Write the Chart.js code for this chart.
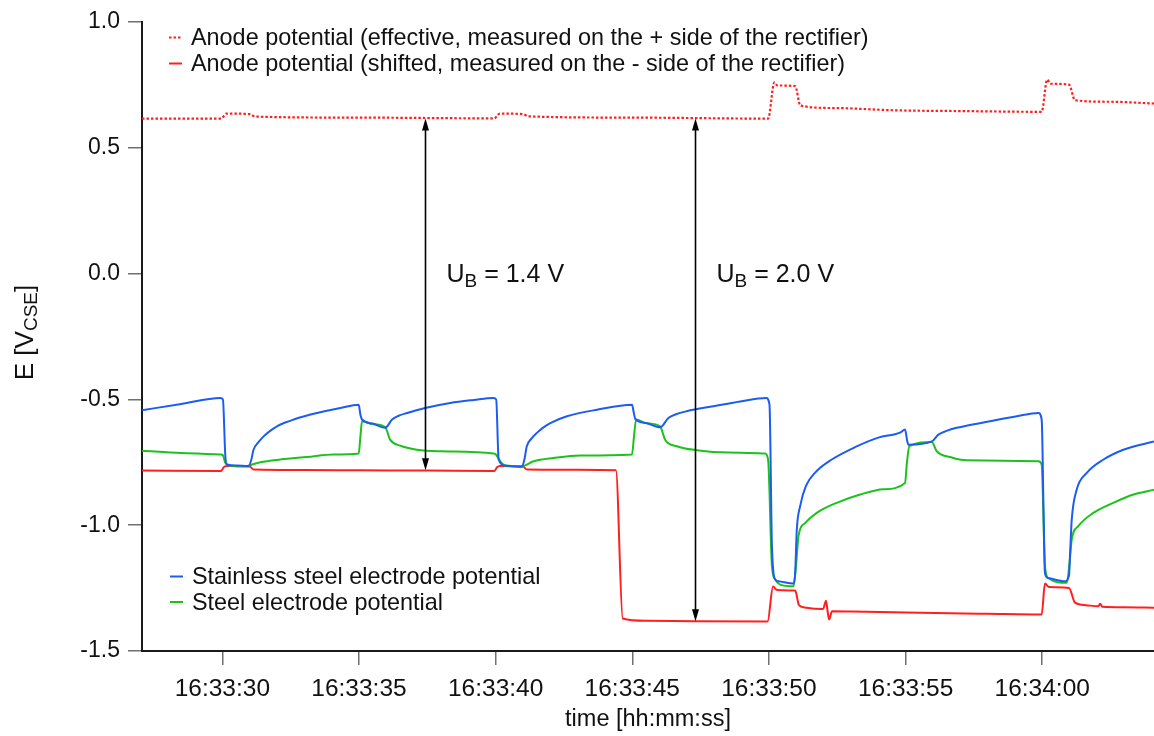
<!DOCTYPE html>
<html>
<head>
<meta charset="utf-8">
<title>Electrode potentials</title>
<script src="https://cdn.jsdelivr.net/npm/chart.js@4.4.1/dist/chart.umd.min.js"></script>
<style>
  html, body { margin: 0; padding: 0; background: #fff; }
</style>
</head>
<body>
<canvas id="potentialChart" width="1154" height="736"></canvas>
<script>
/************************************************************************************************
 *                                        CHART DATA
 *  time in seconds after 16:33:00, potentials in V vs CSE
 * **********************************************************************************************/

const timeTicks = [30, 35, 40, 45, 50, 55, 60];
const potentialTicks = [-1.5, -1.0, -0.5, 0.0, 0.5, 1.0];

const stainlessTime = [27.06, 28.5, 29.93, 30.02, 30.11, 30.17, 30.5, 30.96, 31.06, 31.14, 31.3, 31.51, 31.75, 32.0, 32.3, 32.61, 33.0, 33.46, 34.32, 34.99,
  35.05, 35.11, 35.5, 35.96, 36.21, 36.45, 36.76, 37.42, 38.34, 39.2, 39.92, 40.02, 40.11, 40.35, 40.96, 41.05, 41.14, 41.3, 41.51, 41.75,
  42.0, 42.61, 43.71, 44.99, 45.05, 45.11, 45.5, 46.02, 46.32, 46.6, 46.99, 47.97, 48.95, 49.9, 50.02, 50.11, 50.23, 50.35, 50.9, 50.96,
  51.02, 51.14, 51.35, 51.7, 52.3, 53.15, 54.0, 54.8, 54.98, 55.06, 55.1, 55.96, 56.2, 56.5, 56.87, 58.09, 59.07, 59.86, 59.98, 60.05,
  60.1, 60.22, 60.83, 60.98, 61.02, 61.08, 61.26, 61.63, 62.24, 62.97, 64.09];
const stainlessE = [-0.543, -0.518, -0.494, -0.500, -0.726, -0.759, -0.763, -0.765, -0.740, -0.700, -0.673, -0.647, -0.625, -0.607, -0.592, -0.580, -0.567, -0.554, -0.534, -0.521,
  -0.560, -0.580, -0.596, -0.613, -0.580, -0.565, -0.554, -0.534, -0.514, -0.502, -0.494, -0.500, -0.739, -0.763, -0.768, -0.740, -0.686, -0.657, -0.633, -0.611,
  -0.594, -0.567, -0.541, -0.521, -0.550, -0.578, -0.594, -0.611, -0.574, -0.559, -0.547, -0.527, -0.508, -0.494, -0.520, -1.084, -1.216, -1.223, -1.232, -1.190,
  -1.017, -0.925, -0.845, -0.790, -0.739, -0.690, -0.652, -0.632, -0.620, -0.665, -0.680, -0.667, -0.640, -0.625, -0.613, -0.587, -0.567, -0.554, -0.580, -0.950,
  -1.190, -1.210, -1.223, -1.200, -1.110, -0.978, -0.859, -0.792, -0.739, -0.700, -0.667];

const steelTime = [27.06, 28.5, 29.93, 30.02, 30.11, 30.3, 30.9, 31.0, 31.39, 32.12, 33.1, 34.07, 34.99, 35.05, 35.11, 35.5, 35.96, 36.14, 36.51, 37.12,
  37.97, 39.92, 40.02, 40.17, 40.35, 40.96, 41.39, 42.12, 43.09, 44.99, 45.06, 45.14, 45.5, 46.02, 46.2, 46.63, 47.36, 48.5, 49.86, 49.97,
  50.11, 50.23, 50.41, 50.9, 51.0, 51.08, 51.33, 51.75, 52.48, 53.34, 54.19, 54.98, 55.05, 55.14, 55.96, 56.14, 56.63, 57.24, 59.86, 59.98,
  60.1, 60.22, 60.9, 61.0, 61.08, 61.32, 61.87, 62.6, 63.34, 64.09];
const steelE = [-0.704, -0.713, -0.719, -0.722, -0.753, -0.764, -0.766, -0.762, -0.750, -0.739, -0.729, -0.719, -0.715, -0.650, -0.587, -0.598, -0.611, -0.660, -0.684, -0.700,
  -0.706, -0.715, -0.720, -0.746, -0.763, -0.766, -0.746, -0.733, -0.723, -0.719, -0.650, -0.580, -0.594, -0.607, -0.660, -0.686, -0.702, -0.711, -0.715, -0.740,
  -1.163, -1.216, -1.236, -1.243, -1.150, -1.044, -0.991, -0.951, -0.911, -0.878, -0.857, -0.832, -0.750, -0.686, -0.669, -0.706, -0.729, -0.742, -0.746, -0.760,
  -1.163, -1.210, -1.229, -1.150, -1.057, -1.004, -0.951, -0.911, -0.878, -0.859];

const anodeShiftedTime = [27.06, 29.95, 30.05, 30.15, 31.0, 31.15, 33.0, 35.0, 37.5, 39.95, 40.05, 40.15, 41.0, 41.15, 43.0, 44.4, 44.65, 45.5, 47.3, 49.95,
  50.15, 50.3, 50.96, 51.1, 51.3, 51.98, 52.09, 52.15, 52.2, 52.31, 53.0, 55.0, 58.0, 59.98, 60.1, 60.25, 60.98, 61.2, 61.6, 62.05,
  62.12, 62.2, 63.0, 64.09];
const anodeShiftedE = [-0.783, -0.785, -0.770, -0.765, -0.767, -0.779, -0.781, -0.782, -0.783, -0.785, -0.770, -0.765, -0.767, -0.779, -0.780, -0.782, -1.371, -1.380, -1.382, -1.383,
  -1.244, -1.258, -1.260, -1.318, -1.327, -1.333, -1.300, -1.345, -1.375, -1.342, -1.343, -1.347, -1.352, -1.355, -1.232, -1.246, -1.250, -1.308, -1.318, -1.322,
  -1.312, -1.324, -1.326, -1.328];

const anodeEffectiveTime = [27.06, 29.95, 30.15, 31.0, 31.2, 35.0, 39.95, 40.15, 41.0, 41.2, 45.0, 49.97, 50.2, 50.3, 50.96, 51.15, 52.4, 54.6, 57.0, 59.98,
  60.18, 60.3, 60.98, 61.2, 62.5, 64.09];
const anodeEffectiveE = [0.616, 0.616, 0.636, 0.634, 0.624, 0.620, 0.617, 0.636, 0.634, 0.625, 0.620, 0.616, 0.760, 0.748, 0.745, 0.668, 0.658, 0.649, 0.646, 0.643,
  0.771, 0.755, 0.751, 0.689, 0.683, 0.676];

// driving voltage arrows between the two anode curves
const arrowTime = [37.42, 47.30];
const arrowTopE = [0.620, 0.620];
const arrowBottomE = [-0.782, -1.382];
const arrowVoltage = ["1.4", "2.0"];
const arrowLabelE = 0.0;

const labelEffective = "Anode potential (effective, measured on the + side of the rectifier)";
const labelShifted = "Anode potential (shifted, measured on the - side of the rectifier)";
const labelStainless = "Stainless steel electrode potential";
const labelSteel = "Steel electrode potential";

/************************************************************************************************
 *                                        SETTINGS
 * **********************************************************************************************/

const FONT = "'Liberation Sans', Arial, Helvetica, sans-serif";
const TEXT_COLOR = "#111";
const RED = "#ff1f1f";
const BLUE = "#1b5cf2";
const GREEN = "#1cc21c";

function toPoints(times, values) {
  return times.map((t, i) => ({ x: t, y: values[i] }));
}

function formatClock(seconds) {
  const total = 16 * 3600 + 33 * 60 + Math.round(seconds);
  const hh = Math.floor(total / 3600);
  const mm = Math.floor((total % 3600) / 60);
  const ss = total % 60;
  const pad = (n) => String(n).padStart(2, "0");
  return hh + ":" + pad(mm) + ":" + pad(ss);
}

function lineStyle(color, dashed) {
  return {
    borderColor: color,
    backgroundColor: color,
    borderWidth: dashed ? 2.2 : 2,
    borderDash: dashed ? [2.5, 2] : [],
    pointRadius: 0,
    fill: false,
    cubicInterpolationMode: "monotone",
  };
}

/************************************************************************************************
 *                                   ANNOTATIONS & LEGENDS
 * **********************************************************************************************/

// draws main text followed by a subscript and an optional tail, starting at x
function drawSubscripted(ctx, x, y, main, sub, tail, size, subSize, subDrop) {
  ctx.font = size + "px " + FONT;
  ctx.fillText(main, x, y);
  x += ctx.measureText(main).width;
  ctx.font = subSize + "px " + FONT;
  ctx.fillText(sub, x, y + subDrop);
  x += ctx.measureText(sub).width;
  ctx.font = size + "px " + FONT;
  ctx.fillText(tail, x, y);
  return x + ctx.measureText(tail).width;
}

function measureSubscripted(ctx, main, sub, tail, size, subSize) {
  ctx.font = size + "px " + FONT;
  let w = ctx.measureText(main).width + ctx.measureText(tail).width;
  ctx.font = subSize + "px " + FONT;
  return w + ctx.measureText(sub).width;
}

function drawArrowHead(ctx, x, y, dir) {
  ctx.beginPath();
  ctx.moveTo(x, y);
  ctx.lineTo(x - 3.5, y + dir * 12);
  ctx.lineTo(x + 3.5, y + dir * 12);
  ctx.closePath();
  ctx.fill();
}

function drawLegendEntry(ctx, ds, x, baseline, text) {
  ctx.save();
  ctx.strokeStyle = ds.borderColor;
  ctx.lineWidth = ds.borderWidth;
  ctx.setLineDash(ds.borderDash || []);
  ctx.beginPath();
  ctx.moveTo(x, baseline - 7.5);
  ctx.lineTo(x + 13, baseline - 7.5);
  ctx.stroke();
  ctx.restore();
  ctx.font = "23.4px " + FONT;
  ctx.fillText(text, x + 22, baseline);
}

const overlayPlugin = {
  id: "overlay",
  afterDatasetsDraw(chart) {
    const ctx = chart.ctx;
    const xs = chart.scales.x;
    const ys = chart.scales.y;
    const ds = chart.data.datasets;
    ctx.save();
    ctx.fillStyle = TEXT_COLOR;
    ctx.strokeStyle = "#000";
    ctx.textBaseline = "alphabetic";
    ctx.textAlign = "left";

    for (let i = 0; i < arrowTime.length; i++) {
      const x = Math.round(xs.getPixelForValue(arrowTime[i])) + 0.5;
      const yTop = ys.getPixelForValue(arrowTopE[i]) + 1;
      const yBottom = ys.getPixelForValue(arrowBottomE[i]);
      ctx.fillStyle = "#000";
      ctx.lineWidth = 1.6;
      ctx.beginPath();
      ctx.moveTo(x, yTop + 8);
      ctx.lineTo(x, yBottom - 8);
      ctx.stroke();
      drawArrowHead(ctx, x, yTop, 1);
      drawArrowHead(ctx, x, yBottom, -1);
      ctx.fillStyle = TEXT_COLOR;
      drawSubscripted(ctx, x + 21, ys.getPixelForValue(arrowLabelE) + 8, "U", "B", " = " + arrowVoltage[i] + " V", 25, 19, 5);
    }

    drawLegendEntry(ctx, ds[0], 169, 45, labelEffective);
    drawLegendEntry(ctx, ds[1], 169, 71, labelShifted);
    drawLegendEntry(ctx, ds[2], 170, 584, labelStainless);
    drawLegendEntry(ctx, ds[3], 170, 609.5, labelSteel);

    // y axis title with subscript
    const midY = (chart.chartArea.top + chart.chartArea.bottom) / 2 - 4;
    ctx.translate(33, midY);
    ctx.rotate(-Math.PI / 2);
    const w = measureSubscripted(ctx, "E [V", "CSE", "]", 26, 19);
    drawSubscripted(ctx, -w / 2, 0, "E [V", "CSE", "]", 26, 19, 4);
    ctx.restore();
  },
};

/************************************************************************************************
 *                                     CHART CONFIGURATION
 * **********************************************************************************************/

function getScaleX() {
  return {
    type: "linear",
    min: 27.06,
    max: 64.09,
    afterBuildTicks: (scale) => {
      scale.ticks = timeTicks.map((v) => ({ value: v }));
    },
    afterFit: (scale) => {
      scale.height = 85;
    },
    grid: { drawOnChartArea: false, drawTicks: true, tickLength: 14, color: "#707070", lineWidth: 1.5 },
    border: { display: true, color: "#1a1a1a", width: 2 },
    ticks: {
      padding: 10,
      color: TEXT_COLOR,
      font: { family: FONT, size: 24.5 },
      maxRotation: 0,
      callback: (v) => formatClock(v),
    },
    title: {
      display: true,
      text: "time [hh:mm:ss]",
      color: TEXT_COLOR,
      font: { family: FONT, size: 23.5 },
      padding: { top: 0, bottom: 2 },
    },
  };
}

function getScaleY() {
  return {
    type: "linear",
    min: -1.5,
    max: 1.0,
    afterBuildTicks: (scale) => {
      scale.ticks = potentialTicks.map((v) => ({ value: v }));
    },
    afterFit: (scale) => {
      scale.width = 142;
    },
    grid: { drawOnChartArea: false, drawTicks: true, tickLength: 14, color: "#707070", lineWidth: 1.5 },
    border: { display: true, color: "#1a1a1a", width: 2 },
    ticks: {
      padding: 8,
      color: TEXT_COLOR,
      font: { family: FONT, size: 23 },
      callback: (v) => Number(v).toFixed(1),
    },
  };
}

function getConfig() {
  return {
    type: "line",
    data: {
      datasets: [
        { label: labelEffective, data: toPoints(anodeEffectiveTime, anodeEffectiveE), order: 4, ...lineStyle(RED, true) },
        { label: labelShifted, data: toPoints(anodeShiftedTime, anodeShiftedE), order: 3, ...lineStyle(RED, false) },
        { label: labelStainless, data: toPoints(stainlessTime, stainlessE), order: 1, ...lineStyle(BLUE, false) },
        { label: labelSteel, data: toPoints(steelTime, steelE), order: 2, ...lineStyle(GREEN, false) },
      ],
    },
    options: {
      responsive: false,
      animation: false,
      devicePixelRatio: 1,
      layout: { padding: { top: 22, right: 0, left: 0, bottom: 0 } },
      scales: { x: getScaleX(), y: getScaleY() },
      plugins: {
        legend: { display: false },
        tooltip: { enabled: false },
      },
    },
    plugins: [overlayPlugin],
  };
}

/************************************************************************************************
 *                                        RENDER
 * **********************************************************************************************/

const potentialChart = new Chart(document.getElementById("potentialChart"), getConfig());
</script>
</body>
</html>
